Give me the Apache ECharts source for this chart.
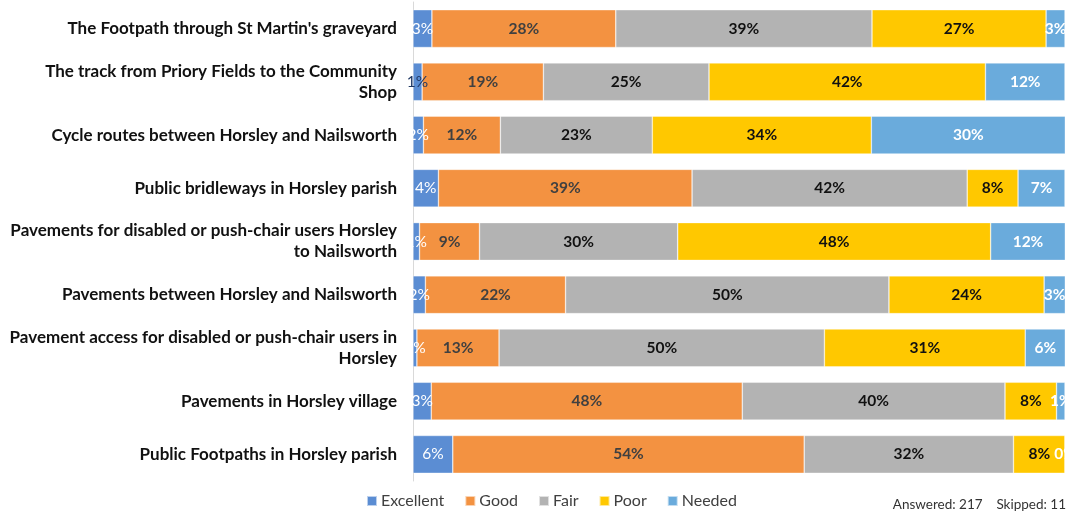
<!DOCTYPE html>
<html>
<head>
<meta charset="utf-8">
<script src="https://cdn.jsdelivr.net/npm/echarts@6/dist/echarts.min.js"></script>
<style>
  html, body { margin: 0; padding: 0; background: #fff; }
  #chart { width: 1068px; height: 513px; }
</style>
</head>
<body>
<div id="chart"></div>
<script>
// Survey categories, listed top to bottom
const categories = [
  "The Footpath through St Martin's graveyard",
  "The track from Priory Fields to the Community\nShop",
  "Cycle routes between Horsley and Nailsworth",
  "Public bridleways in Horsley parish",
  "Pavements for disabled or push-chair users Horsley\nto Nailsworth",
  "Pavements between Horsley and Nailsworth",
  "Pavement access for disabled or push-chair users in\nHorsley",
  "Pavements in Horsley village",
  "Public Footpaths in Horsley parish"
];

// Share of responses per rating (percent of answers per row)
const excellent = [2.9, 1.4, 1.6, 3.9, 1.0, 1.9, 0.6, 2.8, 6.1];
const good      = [28.2, 18.6, 11.8, 38.9, 9.2, 21.5, 12.6, 47.7, 53.9];
const fair      = [39.3, 25.4, 23.3, 42.2, 30.4, 49.6, 49.9, 40.3, 32.1];
const poor      = [26.7, 42.4, 33.6, 7.8, 48.0, 23.8, 30.8, 7.9, 7.9];
const needed    = [2.9, 12.2, 29.9, 7.2, 11.5, 3.3, 6.2, 1.3, 0.0];

const seriesNames = ['Excellent', 'Good', 'Fair', 'Poor', 'Needed'];
const seriesData = [excellent, good, fair, poor, needed];
const seriesColors = ['#5B8DD3', '#F39241', '#B3B3B3', '#FFC800', '#6AABDC'];
const labelColors = ['#ffffff', '#404040', '#111111', '#111111', '#ffffff'];
const labelWeights = ['normal', 'bold', 'bold', 'bold', 'bold'];

const FONT = 'Lato, "Open Sans", sans-serif';

const chart = echarts.init(document.getElementById('chart'), null, { renderer: 'canvas' });

const series = seriesNames.map((name, i) => ({
  name: name,
  type: 'bar',
  stack: 'total',
  barCategoryGap: '29%',
  // the 1% sliver on the Priory Fields row gets a dark label so it reads against the white margin
  data: seriesData[i].map((v, j) =>
    (i === 0 && j === 1) ? { value: v, label: { color: '#1F3864' } } : v),
  itemStyle: { color: seriesColors[i], borderColor: 'rgba(255,255,255,0.6)', borderWidth: 0.6 },
  label: {
    show: true,
    position: 'inside',
    formatter: p => Math.round(p.value) + '%',
    color: labelColors[i],
    fontFamily: FONT,
    fontSize: 15.5,
    fontWeight: labelWeights[i]
  },
  emphasis: { disabled: true }
}));

chart.setOption({
  animation: false,
  textStyle: { fontFamily: FONT },
  grid: { left: 413, right: 3, top: 2, bottom: 32, containLabel: false },
  xAxis: {
    type: 'value',
    min: 0,
    max: 100,
    show: false
  },
  yAxis: {
    type: 'category',
    data: categories,
    inverse: true,
    axisLine: { show: true, lineStyle: { color: '#d9d9d9', width: 1 } },
    axisTick: { show: false },
    axisLabel: {
      margin: 16,
      color: '#111111',
      fontFamily: FONT,
      fontSize: 17,
      fontWeight: 'bold',
      lineHeight: 21,
      align: 'right'
    }
  },
  legend: {
    data: seriesNames,
    bottom: -1,
    left: 361,
    icon: 'rect',
    itemWidth: 10,
    itemHeight: 10,
    itemGap: 20,
    textStyle: { color: '#404040', fontFamily: FONT, fontSize: 16, padding: [0, 0, 0, -1] }
  },
  graphic: [{
    type: 'text',
    right: 2,
    bottom: 1,
    style: {
      text: 'Answered: 217    Skipped: 11',
      fill: '#333333',
      font: '13.5px ' + FONT
    }
  }],
  series: series
});
</script>
</body>
</html>
